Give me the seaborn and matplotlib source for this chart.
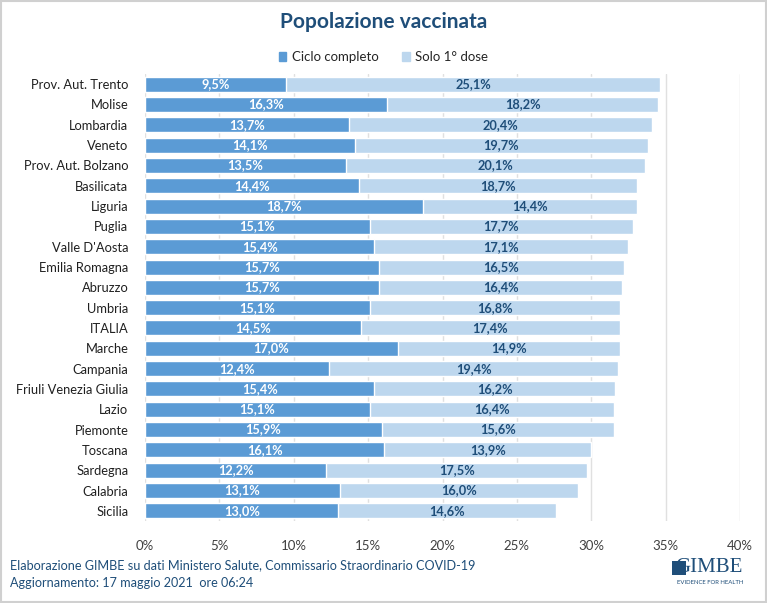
import matplotlib
matplotlib.use("Agg")
import matplotlib.pyplot as plt
import matplotlib.patches as mpatches
import seaborn as sns
import pandas as pd
import numpy as np

regions = ["Prov. Aut. Trento", "Molise", "Lombardia", "Veneto", "Prov. Aut. Bolzano",
           "Basilicata", "Liguria", "Puglia", "Valle D'Aosta", "Emilia Romagna",
           "Abruzzo", "Umbria", "ITALIA", "Marche", "Campania", "Friuli Venezia Giulia",
           "Lazio", "Piemonte", "Toscana", "Sardegna", "Calabria", "Sicilia"]
ciclo_completo = [9.5, 16.3, 13.7, 14.1, 13.5, 14.4, 18.7, 15.1, 15.4, 15.7,
                  15.7, 15.1, 14.5, 17.0, 12.4, 15.4, 15.1, 15.9, 16.1, 12.2, 13.1, 13.0]
solo_prima_dose = [25.1, 18.2, 20.4, 19.7, 20.1, 18.7, 14.4, 17.7, 17.1, 16.5,
                   16.4, 16.8, 17.4, 14.9, 19.4, 16.2, 16.4, 15.6, 13.9, 17.5, 16.0, 14.6]
x_ticks = [0, 5, 10, 15, 20, 25, 30, 35, 40]

C_DARK = "#5B9BD5"
C_LIGHT = "#BDD7EE"
C_TEXT = "#1F4E79"

df = pd.DataFrame({"regione": regions, "ciclo": ciclo_completo, "solo": solo_prima_dose})
df["totale"] = df["ciclo"] + df["solo"]

sns.set_theme(style="white")
plt.rcParams["font.family"] = ["Lato", "DejaVu Sans"]

fig = plt.figure(figsize=(7.67, 6.03), dpi=100)
ax = fig.add_axes([145/767, 1-521/603, (740-145)/767, (521-74)/603])

sns.barplot(data=df, y="regione", x="totale", color=C_LIGHT, orient="h",
            width=0.74, ax=ax, saturation=1, zorder=2)
sns.barplot(data=df, y="regione", x="ciclo", color=C_DARK, orient="h",
            width=0.74, ax=ax, saturation=1, zorder=3)

for i, (c, s) in enumerate(zip(df["ciclo"], df["solo"])):
    ax.text(c/2, i, f"{c:.1f}%".replace(".", ","), ha="center", va="center",
            color="white", fontsize=9.2, fontweight="bold", zorder=4)
    ax.text(c + s/2, i, f"{s:.1f}%".replace(".", ","), ha="center", va="center",
            color=C_TEXT, fontsize=9.2, fontweight="bold", zorder=4)

ax.set_xlim(0, 40)
ax.set_ylim(21.5, -0.5)
ax.set_xticks(x_ticks)
ax.set_xticklabels([f"{t}%" for t in x_ticks], fontsize=9.5, color="#404040")
ax.tick_params(axis="y", labelsize=9.3, labelcolor="#202020", length=0, pad=12)
ax.tick_params(axis="x", length=0, pad=14)
ax.set_xlabel("")
ax.set_ylabel("")
ax.grid(axis="x", color="#E0E0E0", linewidth=1, zorder=0)
ax.set_axisbelow(True)
for sp in ax.spines.values():
    sp.set_visible(False)

fig.text(0.5, 1-22/603, "Popolazione vaccinata", ha="center", va="center",
         fontsize=15, fontweight="bold", color=C_TEXT)

handles = [mpatches.Patch(color=C_DARK, label="Ciclo completo"),
           mpatches.Patch(color=C_LIGHT, label="Solo 1° dose")]
fig.legend(handles=handles, loc="center", bbox_to_anchor=(0.5, 1-57/603), ncol=2,
           frameon=False, fontsize=9.5, handlelength=0.6, handleheight=0.6,
           handletextpad=0.4, columnspacing=1.8)

fig.text(10/767, 1-565/603, "Elaborazione GIMBE su dati Ministero Salute, Commissario Straordinario COVID-19",
         ha="left", va="center", fontsize=9.1, color=C_TEXT)
fig.text(10/767, 1-583/603, "Aggiornamento: 17 maggio 2021  ore 06:24",
         ha="left", va="center", fontsize=9.1, color=C_TEXT)
fig.text(743/767, 1-567/603, "GIMBE", ha="right", va="center", fontsize=15,
         color=C_TEXT, family=["Liberation Serif", "DejaVu Serif"])
fig.add_artist(mpatches.Rectangle((672/767, 1-575/603), 14/767, 14/603,
                                  transform=fig.transFigure, facecolor=C_TEXT,
                                  edgecolor="none"))
fig.text(743/767, 1-583/603, "EVIDENCE FOR HEALTH", ha="right", va="center",
         fontsize=4.3, color=C_TEXT)

fig.add_artist(mpatches.Rectangle((0.001, 0.002), 0.998, 0.996, transform=fig.transFigure,
                                  fill=False, edgecolor="#D0D0D0", linewidth=1.5))

fig.savefig("out.png", dpi=100)
